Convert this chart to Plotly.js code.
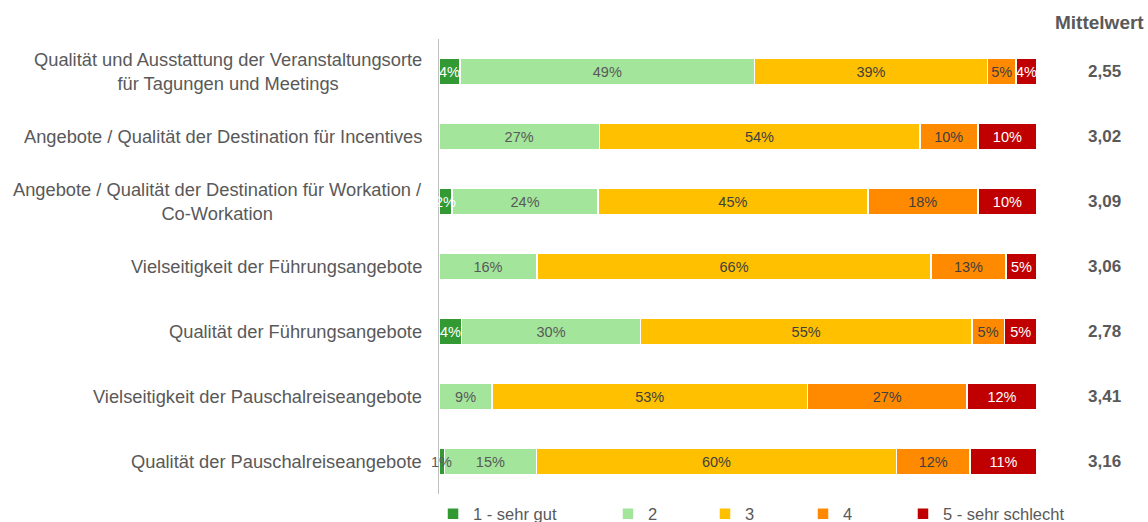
<!DOCTYPE html>
<html>
<head>
<meta charset="utf-8">
<script src="https://cdn.plot.ly/plotly-3.0.1.min.js"></script>
<style>html,body{margin:0;padding:0;background:#fff;}#chart{width:1148px;height:522px;}</style>
</head>
<body>
<div id="chart"></div>
<script>
const categories = [
  "Qualität und Ausstattung der Veranstaltungsorte<br>für Tagungen und Meetings",
  "Angebote / Qualität der Destination für Incentives",
  "Angebote / Qualität der Destination für Workation /<br>Co-Workation",
  "Vielseitigkeit der Führungsangebote",
  "Qualität der Führungsangebote",
  "Vielseitigkeit der Pauschalreiseangebote",
  "Qualität der Pauschalreiseangebote"
];
const seriesNames = ["1 - sehr gut", "2", "3", "4", "5 - sehr schlecht"];
const s1 = [3.5, null, 2.2, null, 3.8, null, 0.9];
const s2 = [49.3, 26.8, 24.4, 16.4, 29.9, 8.9, 15.4];
const s3 = [38.9, 53.6, 45.1, 65.9, 55.4, 52.7, 60.2];
const s4 = [4.8, 9.7, 18.4, 12.5, 5.45, 26.7, 12.3];
const s5 = [3.5, 9.9, 9.9, 5.2, 5.45, 11.7, 11.2];
const means = [2.55, 3.02, 3.09, 3.06, 2.78, 3.41, 3.16];
const meanHeader = "Mittelwert";

const colors = ["#339933", "#a3e59b", "#ffc000", "#ff8a00", "#c00000"];
const textColors = [
  ["#ffffff","#ffffff","#ffffff","#ffffff","#ffffff","#ffffff","#595959"],
  "#595959", "#404040", "#404040", "#ffffff"
];
const allSeries = [s1, s2, s3, s4, s5];
const legendIds = ["legend", "legend2", "legend3", "legend4", "legend5"];
const legendX = [-0.010, 0.2826, 0.4448, 0.6087, 0.7759];
const FONT = "Liberation Sans, Arial, sans-serif";

const traces = allSeries.map((vals, i) => ({
  type: "bar",
  orientation: "h",
  name: seriesNames[i],
  legend: legendIds[i],
  y: categories,
  x: vals,
  marker: {color: colors[i], line: {color: "#ffffff", width: 1.5}},
  texttemplate: i === 0 ? "" : "%{x:.0f}%",
  textposition: i === 0 ? "none" : "inside",
  insidetextanchor: "middle",
  constraintext: "none",
  textangle: 0,
  textfont: {family: FONT, size: 14.5, color: textColors[i]},
  hoverinfo: "skip"
}));

const annotations = [];
// labels of the first (narrow) series are drawn on top so they may overflow their segment
s1.forEach((v, k) => {
  if (v === null) return;
  annotations.push({
    xref: "x", yref: "y", x: v / 2, y: categories[k], text: Math.round(v) + "%",
    xanchor: "center", yanchor: "middle", showarrow: false,
    font: {family: FONT, size: 14.5, color: textColors[0][k]}
  });
});
categories.forEach((c, k) => {
  annotations.push({
    xref: "paper", yref: "y", x: 0, y: c, text: c,
    xanchor: "right", yanchor: "middle", xshift: -15, align: "center",
    showarrow: false, font: {family: FONT, size: 18.3, color: "#595959"}
  });
  annotations.push({
    xref: "paper", yref: "y", x: 1.1137, y: c,
    text: "<b>" + means[k].toFixed(2).replace(".", ",") + "</b>",
    xanchor: "center", yanchor: "middle", showarrow: false,
    font: {family: FONT, size: 17, color: "#595959"}
  });
});
annotations.push({
  xref: "paper", yref: "paper", x: 1.1037, y: 1.037, text: "<b>" + meanHeader + "</b>",
  xanchor: "center", yanchor: "middle", showarrow: false,
  font: {family: FONT, size: 19, color: "#595959"}
});

const layout = {
  width: 1148, height: 522,
  margin: {l: 439, r: 111, t: 39, b: 28, autoexpand: false},
  barmode: "stack",
  bargap: 0.6,
  paper_bgcolor: "#ffffff", plot_bgcolor: "#ffffff",
  font: {family: FONT, color: "#595959"},
  xaxis: {range: [0, 100], showgrid: false, zeroline: false, showticklabels: false, ticks: "", fixedrange: true},
  yaxis: {autorange: "reversed", showticklabels: false, ticks: "", showgrid: false, zeroline: false,
          showline: true, linecolor: "#bfbfbf", linewidth: 1, fixedrange: true},
  uniformtext: {mode: "show", minsize: 14.5},
  showlegend: true,
  annotations: annotations
};
legendIds.forEach((id, i) => {
  layout[id] = {orientation: "h", x: legendX[i], xanchor: "left", y: -0.044, yanchor: "middle",
                bgcolor: "rgba(0,0,0,0)",
                font: {family: FONT, size: 16.5, color: "#595959"}};
});

Plotly.newPlot("chart", traces, layout, {displayModeBar: false, staticPlot: true});
</script>
</body>
</html>
